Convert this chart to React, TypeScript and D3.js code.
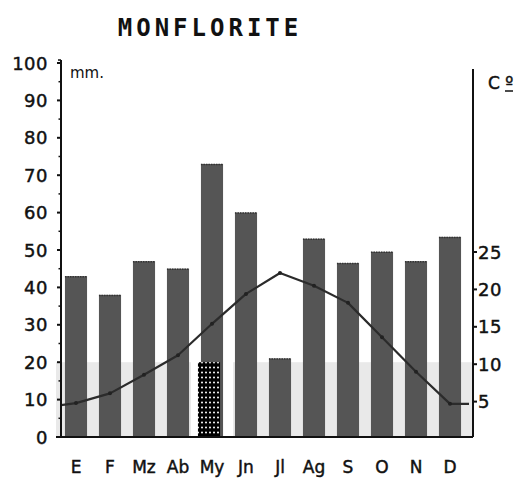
import React from "react";
import * as d3 from "d3";

const months = ["E", "F", "Mz", "Ab", "My", "Jn", "Jl", "Ag", "S", "O", "N", "D"];
const precipitation = [43, 38, 47, 45, 73, 60, 21, 53, 46.5, 49.5, 47, 53.5];
const temperature = [4.8, 6.1, 8.6, 11.2, 15.4, 19.4, 22.2, 20.5, 18.2, 13.6, 9, 4.7];
const mmTicks = [0, 10, 20, 30, 40, 50, 60, 70, 80, 90, 100];
const tempTicks = [5, 10, 15, 20, 25];
const title = "MONFLORITE";

const W = 521;
const H = 479;
const axisL = 61;
const axisR = 473;
const baseY = 437;

export default function App() {
  const x = d3.scaleBand<string>().domain(months).range([59, 467]).paddingInner(0.35).paddingOuter(0.175);
  const y = d3.scaleLinear().domain([0, 100]).range([baseY, 63]);
  const yT = d3.scaleLinear().domain([0, 50]).range([439, 65]);
  const cx = (m: string) => (x(m) as number) + x.bandwidth() / 2;

  const pts: [number, number][] = temperature.map((t, i) => [cx(months[i]), yT(t)]);
  const linePts: [number, number][] = [
    [axisL, yT(temperature[0]) + 2],
    ...pts,
    [axisR - 4, yT(temperature[temperature.length - 1])],
  ];
  const line = d3.line<[number, number]>().x((d) => d[0]).y((d) => d[1]);

  const minor = d3.range(5, 100, 10);
  const font = "'DejaVu Sans', sans-serif";
  const mayX = x("My") as number;
  const bw = x.bandwidth();
  const textStroke = { stroke: "#111", strokeWidth: 0.45 };

  return (
    <svg width={W} height={H} style={{ position: "absolute", left: 0, top: 0, background: "#fff" }}>
      <defs>
        <pattern id="dots" width="4" height="5" patternUnits="userSpaceOnUse">
          <rect width="4" height="5" fill="#000" />
          <circle cx="2" cy="2.5" r="1" fill="#fff" />
        </pattern>
      </defs>
      <rect x={0} y={0} width={W} height={H} fill="#fff" />
      {/* light scan band at bottom */}
      <rect x={56} y={y(20)} width={mayX - 10 - 56} height={baseY - y(20)} fill="#e9e9e9" />
      <rect x={mayX + bw + 10} y={y(20)} width={axisR - (mayX + bw + 10)} height={baseY - y(20)} fill="#e9e9e9" />

      {/* title */}
      <text x={210} y={36} textAnchor="middle" fontFamily="'DejaVu Sans Mono', monospace" fontWeight="bold" fontSize={24} letterSpacing={4} fill="#111">
        {title}
      </text>

      {/* bars */}
      {precipitation.map((v, i) => (
        <g key={months[i]}>
          <rect x={x(months[i])} y={y(v)} width={bw} height={baseY - y(v)} fill="#555" />
          <line x1={x(months[i])} x2={(x(months[i]) as number) + bw} y1={y(v) + 0.5} y2={y(v) + 0.5} stroke="#333" strokeWidth={1.5} strokeDasharray="1.5,1" />
        </g>
      ))}
      {/* May bottom pattern */}
      <rect x={mayX - 3} y={y(20)} width={bw} height={baseY - y(20)} fill="url(#dots)" />

      {/* temperature line */}
      <path d={line(linePts) || ""} fill="none" stroke="#2b2b2b" strokeWidth={2.2} strokeLinejoin="round" />
      {pts.map((p, i) => (
        <circle key={i} cx={p[0]} cy={p[1]} r={2} fill="#222" />
      ))}

      {/* baseline */}
      <line x1={56} x2={axisR} y1={baseY} y2={baseY} stroke="#111" strokeWidth={2} />

      {/* left axis */}
      <line x1={axisL} x2={axisL} y1={60} y2={baseY} stroke="#111" strokeWidth={2} />
      <line x1={axisL - 3} x2={axisL} y1={60} y2={60} stroke="#111" strokeWidth={1.5} />
      {mmTicks.map((t) => (
        <g key={t}>
          <line x1={axisL - 4} x2={axisL} y1={y(t)} y2={y(t)} stroke="#111" strokeWidth={2} />
          <text x={48} y={y(t)} textAnchor="end" dominantBaseline="central" fontFamily={font} fontSize={18} letterSpacing={0.5} fill="#111" {...textStroke}>
            {t}
          </text>
        </g>
      ))}
      {minor.map((t) => (
        <line key={t} x1={axisL - 2.5} x2={axisL} y1={y(t)} y2={y(t)} stroke="#111" strokeWidth={1.5} />
      ))}
      <text x={70} y={73} dominantBaseline="central" fontFamily={font} fontSize={15} fill="#111">
        mm.
      </text>

      {/* right axis */}
      <line x1={axisR} x2={axisR} y1={69} y2={baseY} stroke="#111" strokeWidth={2} />
      {tempTicks.map((t) => (
        <g key={t}>
          <line x1={axisR} x2={axisR + 4} y1={yT(t)} y2={yT(t)} stroke="#111" strokeWidth={2} />
          <text x={478} y={yT(t)} dominantBaseline="central" fontFamily={font} fontSize={18} letterSpacing={0.5} fill="#111" {...textStroke}>
            {t}
          </text>
        </g>
      ))}
      <text x={488} y={83} dominantBaseline="central" fontFamily={font} fontSize={17} fill="#111" {...textStroke}>
        C º
      </text>
      <line x1={505} x2={513} y1={91} y2={91} stroke="#111" strokeWidth={1.5} />

      {/* month labels */}
      {months.map((m) => (
        <text key={m} x={cx(m)} y={473} textAnchor="middle" fontFamily={font} fontSize={17} fill="#111" {...textStroke}>
          {m}
        </text>
      ))}
    </svg>
  );
}
